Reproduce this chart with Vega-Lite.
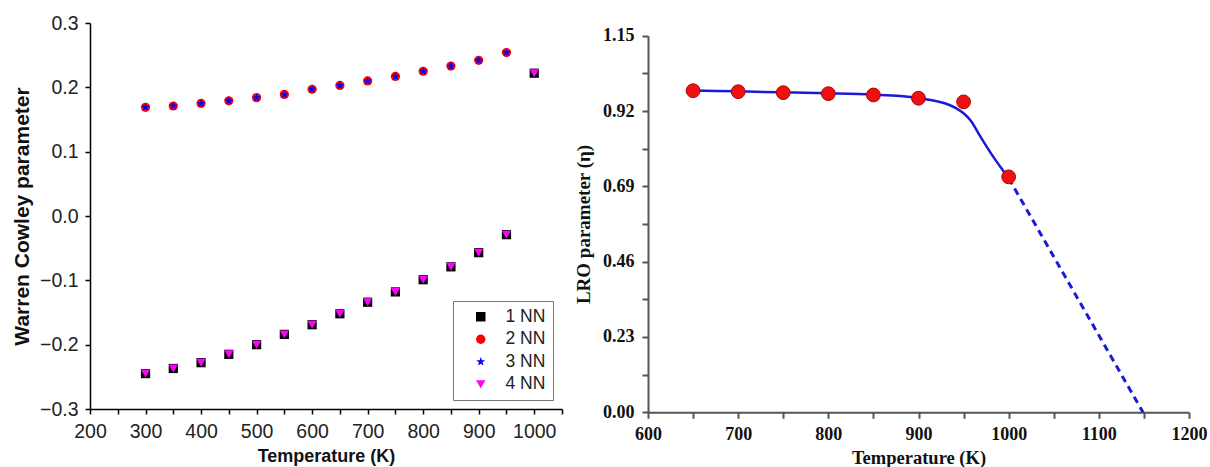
{
  "$schema": "https://vega.github.io/schema/vega-lite/v6.json",
  "width": 1210,
  "height": 467,
  "autosize": {"type": "none"},
  "padding": 0,
  "background": "white",
  "config": {"view": {"stroke": null}, "axis": {"grid": false}},
  "datasets": {
    "wc": [
      {"T": 300, "v": -0.245, "series": "1 NN"}, {"T": 350, "v": -0.237, "series": "1 NN"}, {"T": 400, "v": -0.228, "series": "1 NN"}, {"T": 450, "v": -0.215, "series": "1 NN"}, {"T": 500, "v": -0.2, "series": "1 NN"}, {"T": 550, "v": -0.184, "series": "1 NN"}, {"T": 600, "v": -0.169, "series": "1 NN"}, {"T": 650, "v": -0.152, "series": "1 NN"}, {"T": 700, "v": -0.134, "series": "1 NN"}, {"T": 750, "v": -0.118, "series": "1 NN"}, {"T": 800, "v": -0.099, "series": "1 NN"}, {"T": 850, "v": -0.079, "series": "1 NN"}, {"T": 900, "v": -0.057, "series": "1 NN"}, {"T": 950, "v": -0.029, "series": "1 NN"}, {"T": 1000, "v": 0.222, "series": "1 NN"},
      {"T": 300, "v": 0.169, "series": "2 NN"}, {"T": 350, "v": 0.171, "series": "2 NN"}, {"T": 400, "v": 0.175, "series": "2 NN"}, {"T": 450, "v": 0.179, "series": "2 NN"}, {"T": 500, "v": 0.184, "series": "2 NN"}, {"T": 550, "v": 0.189, "series": "2 NN"}, {"T": 600, "v": 0.197, "series": "2 NN"}, {"T": 650, "v": 0.203, "series": "2 NN"}, {"T": 700, "v": 0.21, "series": "2 NN"}, {"T": 750, "v": 0.217, "series": "2 NN"}, {"T": 800, "v": 0.225, "series": "2 NN"}, {"T": 850, "v": 0.233, "series": "2 NN"}, {"T": 900, "v": 0.242, "series": "2 NN"}, {"T": 950, "v": 0.254, "series": "2 NN"},
      {"T": 300, "v": 0.169, "series": "3 NN"}, {"T": 350, "v": 0.171, "series": "3 NN"}, {"T": 400, "v": 0.175, "series": "3 NN"}, {"T": 450, "v": 0.179, "series": "3 NN"}, {"T": 500, "v": 0.184, "series": "3 NN"}, {"T": 550, "v": 0.189, "series": "3 NN"}, {"T": 600, "v": 0.197, "series": "3 NN"}, {"T": 650, "v": 0.203, "series": "3 NN"}, {"T": 700, "v": 0.21, "series": "3 NN"}, {"T": 750, "v": 0.217, "series": "3 NN"}, {"T": 800, "v": 0.225, "series": "3 NN"}, {"T": 850, "v": 0.233, "series": "3 NN"}, {"T": 900, "v": 0.242, "series": "3 NN"}, {"T": 950, "v": 0.254, "series": "3 NN"},
      {"T": 300, "v": -0.245, "series": "4 NN"}, {"T": 350, "v": -0.237, "series": "4 NN"}, {"T": 400, "v": -0.228, "series": "4 NN"}, {"T": 450, "v": -0.215, "series": "4 NN"}, {"T": 500, "v": -0.2, "series": "4 NN"}, {"T": 550, "v": -0.184, "series": "4 NN"}, {"T": 600, "v": -0.169, "series": "4 NN"}, {"T": 650, "v": -0.152, "series": "4 NN"}, {"T": 700, "v": -0.134, "series": "4 NN"}, {"T": 750, "v": -0.118, "series": "4 NN"}, {"T": 800, "v": -0.099, "series": "4 NN"}, {"T": 850, "v": -0.079, "series": "4 NN"}, {"T": 900, "v": -0.057, "series": "4 NN"}, {"T": 950, "v": -0.029, "series": "4 NN"}, {"T": 1000, "v": 0.222, "series": "4 NN"}
    ],
    "lro": [
      {"T": 650, "eta": 0.982}, {"T": 700, "eta": 0.979}, {"T": 750, "eta": 0.976}, {"T": 800, "eta": 0.973}, {"T": 850, "eta": 0.969}, {"T": 900, "eta": 0.959}, {"T": 950, "eta": 0.948}, {"T": 1000, "eta": 0.719}
    ],
    "fit": [
      {"T": 650, "eta": 0.983}, {"T": 700, "eta": 0.98}, {"T": 750, "eta": 0.977}, {"T": 800, "eta": 0.974}, {"T": 850, "eta": 0.97}, {"T": 880, "eta": 0.966}, {"T": 900, "eta": 0.96}, {"T": 915, "eta": 0.953}, {"T": 930, "eta": 0.943}, {"T": 942, "eta": 0.928}, {"T": 950, "eta": 0.913}, {"T": 958, "eta": 0.89}, {"T": 968, "eta": 0.845}, {"T": 983, "eta": 0.78}, {"T": 992, "eta": 0.745}, {"T": 1000, "eta": 0.715}
    ],
    "extrap": [
      {"T": 1000, "eta": 0.715}, {"T": 1149, "eta": 0.0}
    ]
  },
  "resolve": {"scale": {"x": "independent", "y": "independent"}, "axis": {"x": "independent", "y": "independent"}},
  "layer": [
    {
      "layer": [
        {
          "mark": {"type": "rule", "strokeWidth": 1.5, "color": "black"},
          "encoding": {
            "x": {"datum": 200, "type": "quantitative", "scale": {"domain": [200, 1050], "range": [90, 562], "nice": false, "zero": false}},
            "x2": {"datum": 1050},
            "y": {"datum": 0.3, "type": "quantitative", "scale": {"domain": [-0.3, 0.3], "range": [409, 23], "nice": false, "zero": false}}
          }
        },
        {
          "mark": {"type": "rule", "strokeWidth": 1.5, "color": "black"},
          "encoding": {
            "x": {"datum": 1050, "type": "quantitative", "scale": {"domain": [200, 1050], "range": [90, 562], "nice": false, "zero": false}},
            "y": {"datum": -0.3, "type": "quantitative", "scale": {"domain": [-0.3, 0.3], "range": [409, 23], "nice": false, "zero": false}},
            "y2": {"datum": 0.3}
          }
        },
        {
          "mark": {"type": "rule", "strokeDash": [8, 5], "strokeWidth": 1.5, "color": "black"},
          "encoding": {
            "x": {"datum": 200, "type": "quantitative", "scale": {"domain": [200, 1050], "range": [90, 562], "nice": false, "zero": false}},
            "x2": {"datum": 970},
            "y": {"datum": 0, "type": "quantitative", "scale": {"domain": [-0.3, 0.3], "range": [409, 23], "nice": false, "zero": false}}
          }
        },
        {
          "data": {"name": "wc"},
          "mark": {"type": "point", "filled": true, "opacity": 1, "size": 85},
          "encoding": {
            "x": {
              "field": "T", "type": "quantitative",
              "scale": {"domain": [200, 1050], "range": [90, 562], "nice": false, "zero": false},
              "axis": {
                "orient": "bottom", "offset": -58,
                "title": "Temperature (K)",
                "values": [200, 250, 300, 350, 400, 450, 500, 550, 600, 650, 700, 750, 800, 850, 900, 950, 1000, 1050],
                "format": "d",
                "labelExpr": "datum.value % 100 === 0 ? datum.label : ''",
                "tickSize": 5,
                "labelFont": "Liberation Sans", "labelFontSize": 19.5, "labelColor": "#222", "labelPadding": 8,
                "labelFlush": false, "labelOverlap": false,
                "titleFont": "Liberation Sans", "titleFontSize": 18, "titleFontWeight": "bold", "titleColor": "#111", "titlePadding": 7,
                "domainColor": "black", "domainWidth": 1.5, "tickColor": "black", "tickWidth": 1.5
              }
            },
            "y": {
              "field": "v", "type": "quantitative",
              "scale": {"domain": [-0.3, 0.3], "range": [409, 23], "nice": false, "zero": false},
              "axis": {
                "orient": "left", "offset": -90,
                "title": "Warren Cowley parameter",
                "values": [-0.3, -0.25, -0.2, -0.15, -0.1, -0.05, 0, 0.05, 0.1, 0.15, 0.2, 0.25, 0.3],
                "labelExpr": "abs(round(datum.value * 100)) % 10 === 0 ? format(datum.value, '.1f') : ''",
                "tickSize": 5,
                "labelFont": "Liberation Sans", "labelFontSize": 19.5, "labelColor": "#222", "labelPadding": 7,
                "labelFlush": false, "labelOverlap": false,
                "titleFont": "Liberation Sans", "titleFontSize": 21, "titleFontWeight": "bold", "titleColor": "#111", "titlePadding": 7,
                "domainColor": "black", "domainWidth": 1.5, "tickColor": "black", "tickWidth": 1.5
              }
            },
            "color": {
              "field": "series", "type": "nominal",
              "scale": {"domain": ["1 NN", "2 NN", "3 NN", "4 NN"], "range": ["black", "red", "blue", "magenta"]},
              "legend": {"title": null, "orient": "none", "legendX": 453, "legendY": 301, "strokeColor": "#777", "fillColor": "white", "padding": 7, "labelFont": "Liberation Sans", "labelFontSize": 17.5, "labelColor": "#222", "symbolSize": 90, "rowPadding": 3.5, "symbolOffset": 12, "labelOffset": 16}
            },
            "shape": {
              "field": "series", "type": "nominal",
              "scale": {"domain": ["1 NN", "2 NN", "3 NN", "4 NN"], "range": ["square", "circle", "M0,-1L0.235,-0.324L0.951,-0.309L0.38,0.124L0.588,0.809L0,0.4L-0.588,0.809L-0.38,0.124L-0.951,-0.309L-0.235,-0.324Z", "triangle-down"]},
              "legend": {"title": null, "orient": "none", "legendX": 453, "legendY": 301, "strokeColor": "#777", "fillColor": "white", "padding": 7, "labelFont": "Liberation Sans", "labelFontSize": 17.5, "labelColor": "#222", "symbolSize": 90, "rowPadding": 3.5, "symbolOffset": 12, "labelOffset": 16}
            }
          }
        },
        {
          "mark": {"type": "rule", "strokeWidth": 1.6, "color": "black"},
          "encoding": {
            "x": {"datum": 951, "type": "quantitative", "scale": {"domain": [200, 1050], "range": [90, 562], "nice": false, "zero": false}},
            "y": {"datum": -0.05, "type": "quantitative", "scale": {"domain": [-0.3, 0.3], "range": [409, 23], "nice": false, "zero": false}},
            "x2": {"datum": 1005},
            "y2": {"datum": 0.232}
          }
        },
        {
          "mark": {"type": "point", "shape": "triangle-up", "filled": true, "color": "black", "opacity": 1, "size": 45, "angle": 9.4},
          "encoding": {
            "x": {"datum": 1004.9, "type": "quantitative", "scale": {"domain": [200, 1050], "range": [90, 562], "nice": false, "zero": false}},
            "y": {"datum": 0.2299, "type": "quantitative", "scale": {"domain": [-0.3, 0.3], "range": [409, 23], "nice": false, "zero": false}}
          }
        },
        {
          "mark": {"type": "text", "font": "Liberation Serif", "fontSize": 27, "align": "center", "baseline": "middle", "color": "#111"},
          "encoding": {
            "x": {"datum": 261, "type": "quantitative", "scale": {"domain": [200, 1050], "range": [90, 562], "nice": false, "zero": false}},
            "y": {"datum": 0.255, "type": "quantitative", "scale": {"domain": [-0.3, 0.3], "range": [409, 23], "nice": false, "zero": false}},
            "text": {"value": "(a)"}
          }
        },
        {
          "mark": {"type": "text", "font": "Liberation Sans", "fontSize": 17, "fontWeight": "bold", "align": "center", "baseline": "middle", "color": "#111"},
          "encoding": {
            "x": {"datum": 648, "type": "quantitative", "scale": {"domain": [200, 1050], "range": [90, 562], "nice": false, "zero": false}},
            "y": {"datum": 0.092, "type": "quantitative", "scale": {"domain": [-0.3, 0.3], "range": [409, 23], "nice": false, "zero": false}},
            "text": {"value": "change in sign;"}
          }
        },
        {
          "mark": {"type": "text", "font": "Liberation Sans", "fontSize": 17, "fontWeight": "bold", "align": "center", "baseline": "middle", "color": "#111"},
          "encoding": {
            "x": {"datum": 647, "type": "quantitative", "scale": {"domain": [200, 1050], "range": [90, 562], "nice": false, "zero": false}},
            "y": {"datum": 0.056, "type": "quantitative", "scale": {"domain": [-0.3, 0.3], "range": [409, 23], "nice": false, "zero": false}},
            "text": {"value": "Complete Disorderness in the system"}
          }
        }
      ]
    },
    {
      "layer": [
        {
          "mark": {"type": "rule", "strokeWidth": 2, "color": "#555"},
          "encoding": {
            "x": {"datum": 600, "type": "quantitative", "scale": {"domain": [600, 1200], "range": [648, 1189], "nice": false, "zero": false}},
            "x2": {"datum": 1200},
            "y": {"datum": 1.15, "type": "quantitative", "scale": {"domain": [0, 1.15], "range": [412.3, 35.7], "nice": false, "zero": false}}
          }
        },
        {
          "mark": {"type": "rule", "strokeWidth": 2, "color": "#555"},
          "encoding": {
            "x": {"datum": 1200, "type": "quantitative", "scale": {"domain": [600, 1200], "range": [648, 1189], "nice": false, "zero": false}},
            "y": {"datum": 0, "type": "quantitative", "scale": {"domain": [0, 1.15], "range": [412.3, 35.7], "nice": false, "zero": false}},
            "y2": {"datum": 1.15}
          }
        },
        {
          "mark": {"type": "rule", "strokeDash": [3.5, 2], "strokeWidth": 3.5, "color": "black"},
          "encoding": {
            "x": {"datum": 1000, "type": "quantitative", "scale": {"domain": [600, 1200], "range": [648, 1189], "nice": false, "zero": false}},
            "y": {"datum": 0, "type": "quantitative", "scale": {"domain": [0, 1.15], "range": [412.3, 35.7], "nice": false, "zero": false}},
            "y2": {"datum": 1.15}
          }
        },
        {
          "data": {"name": "fit"},
          "mark": {"type": "line", "color": "#1a1ad8", "strokeWidth": 2.5, "interpolate": "monotone"},
          "encoding": {
            "x": {"field": "T", "type": "quantitative", "scale": {"domain": [600, 1200], "range": [648, 1189], "nice": false, "zero": false}},
            "y": {"field": "eta", "type": "quantitative", "scale": {"domain": [0, 1.15], "range": [412.3, 35.7], "nice": false, "zero": false}}
          }
        },
        {
          "data": {"name": "extrap"},
          "mark": {"type": "line", "color": "#1a1ad8", "strokeWidth": 3, "strokeDash": [7, 5]},
          "encoding": {
            "x": {"field": "T", "type": "quantitative", "scale": {"domain": [600, 1200], "range": [648, 1189], "nice": false, "zero": false}},
            "y": {"field": "eta", "type": "quantitative", "scale": {"domain": [0, 1.15], "range": [412.3, 35.7], "nice": false, "zero": false}}
          }
        },
        {
          "data": {"name": "lro"},
          "mark": {"type": "point", "filled": true, "opacity": 1, "size": 190, "fill": "#ee1111", "stroke": "#b30000", "strokeWidth": 1},
          "encoding": {
            "x": {
              "field": "T", "type": "quantitative",
              "scale": {"domain": [600, 1200], "range": [648, 1189], "nice": false, "zero": false},
              "axis": {
                "orient": "bottom", "offset": -54.7,
                "title": "Temperature (K)",
                "values": [600, 650, 700, 750, 800, 850, 900, 950, 1000, 1050, 1100, 1150, 1200],
                "format": "d",
                "labelExpr": "datum.value % 100 === 0 ? datum.label : ''",
                "tickSize": 6,
                "labelFont": "Liberation Serif", "labelFontSize": 18, "labelFontWeight": "bold", "labelColor": "#111", "labelPadding": 7,
                "labelFlush": false, "labelOverlap": false,
                "titleFont": "Liberation Serif", "titleFontSize": 18.5, "titleFontWeight": "bold", "titleColor": "#111", "titlePadding": 5,
                "domainColor": "#555", "domainWidth": 2, "tickColor": "#555", "tickWidth": 2
              }
            },
            "y": {
              "field": "eta", "type": "quantitative",
              "scale": {"domain": [0, 1.15], "range": [412.3, 35.7], "nice": false, "zero": false},
              "axis": {
                "orient": "left", "offset": -648,
                "title": "LRO parameter (η)",
                "values": [0, 0.115, 0.23, 0.345, 0.46, 0.575, 0.69, 0.805, 0.92, 1.035, 1.15],
                "labelExpr": "round(datum.value / 0.115) % 2 === 0 ? format(datum.value, '.2f') : ''",
                "tickSize": 6,
                "labelFont": "Liberation Serif", "labelFontSize": 18, "labelFontWeight": "bold", "labelColor": "#111", "labelPadding": 8,
                "labelFlush": false, "labelOverlap": false,
                "titleFont": "Liberation Serif", "titleFontSize": 19, "titleFontWeight": "bold", "titleColor": "#111", "titlePadding": 9,
                "domainColor": "#555", "domainWidth": 2, "tickColor": "#555", "tickWidth": 2
              }
            }
          }
        },
        {
          "mark": {"type": "text", "font": "Liberation Serif", "fontSize": 28, "align": "center", "baseline": "middle", "color": "#111"},
          "encoding": {
            "x": {"datum": 639, "type": "quantitative", "scale": {"domain": [600, 1200], "range": [648, 1189], "nice": false, "zero": false}},
            "y": {"datum": 1.067, "type": "quantitative", "scale": {"domain": [0, 1.15], "range": [412.3, 35.7], "nice": false, "zero": false}},
            "text": {"value": "(b)"}
          }
        },
        {
          "mark": {"type": "text", "font": "Liberation Serif", "fontSize": 21, "fontWeight": "bold", "align": "center", "baseline": "middle", "color": "#111"},
          "encoding": {
            "x": {"datum": 832, "type": "quantitative", "scale": {"domain": [600, 1200], "range": [648, 1189], "nice": false, "zero": false}},
            "y": {"datum": 0.731, "type": "quantitative", "scale": {"domain": [0, 1.15], "range": [412.3, 35.7], "nice": false, "zero": false}},
            "text": {"value": "Ordered Phase"}
          }
        },
        {
          "mark": {"type": "text", "font": "Liberation Serif", "fontSize": 16, "fontWeight": "bold", "align": "left", "baseline": "middle", "color": "#111"},
          "encoding": {
            "x": {"datum": 788.5, "type": "quantitative", "scale": {"domain": [600, 1200], "range": [648, 1189], "nice": false, "zero": false}},
            "y": {"datum": 0.6125, "type": "quantitative", "scale": {"domain": [0, 1.15], "range": [412.3, 35.7], "nice": false, "zero": false}},
            "text": {"value": "D1"}
          }
        },
        {
          "mark": {"type": "text", "font": "Liberation Serif", "fontSize": 11, "fontWeight": "bold", "align": "left", "baseline": "middle", "color": "#111"},
          "encoding": {
            "x": {"datum": 812.5, "type": "quantitative", "scale": {"domain": [600, 1200], "range": [648, 1189], "nice": false, "zero": false}},
            "y": {"datum": 0.598, "type": "quantitative", "scale": {"domain": [0, 1.15], "range": [412.3, 35.7], "nice": false, "zero": false}},
            "text": {"value": "a"}
          }
        },
        {
          "mark": {"type": "text", "font": "Liberation Serif", "fontSize": 18, "fontWeight": "bold", "align": "center", "baseline": "middle", "color": "#111"},
          "encoding": {
            "x": {"datum": 1087, "type": "quantitative", "scale": {"domain": [600, 1200], "range": [648, 1189], "nice": false, "zero": false}},
            "y": {"datum": 0.857, "type": "quantitative", "scale": {"domain": [0, 1.15], "range": [412.3, 35.7], "nice": false, "zero": false}},
            "text": {"value": "FCC"}
          }
        }
      ]
    }
  ]
}
